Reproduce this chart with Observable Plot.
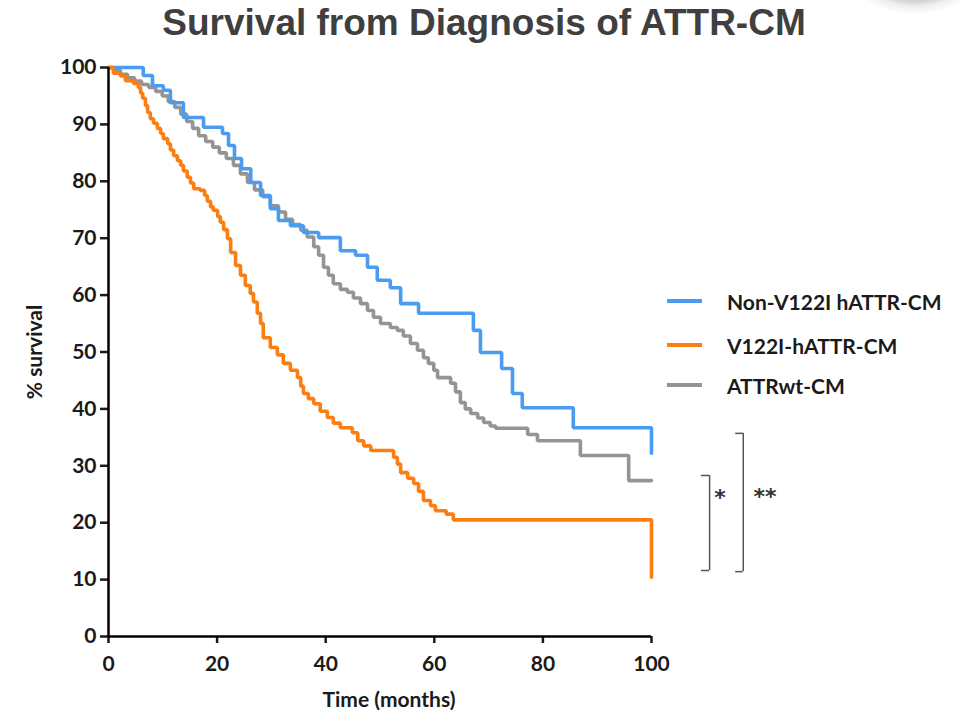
<!DOCTYPE html>
<html>
<head>
<meta charset="utf-8">
<script src="https://cdn.jsdelivr.net/npm/d3@7"></script>
<script src="https://cdn.jsdelivr.net/npm/@observablehq/plot@0.6"></script>
<style>
  html, body { margin: 0; padding: 0; background: #fff; }
  #wrap { position: relative; width: 968px; height: 714px; overflow: hidden; }
  #title { position: absolute; left: 0; top: 4px; width: 968px; text-align: center;
    font: bold 37px "Liberation Sans", Arial, sans-serif; line-height: 37px; color: #3f3f3f; }
  #blob { position: absolute; left: 845px; top: -62px; width: 140px; height: 76px; border-radius: 50%;
    background: radial-gradient(ellipse at 50% 35%, rgba(80,80,80,0.9) 0%, rgba(110,110,110,0.6) 40%, rgba(200,200,200,0.3) 60%, rgba(255,255,255,0) 72%); }
  #chart { position: absolute; left: 0; top: 55px; }
  .leg { position: absolute; left: 667px; height: 26px; display: flex; align-items: center;
    font: bold 21px Lato, sans-serif; color: #1a1a1a; white-space: nowrap; }
  .leg .sw { width: 35px; height: 4px; margin-right: 25px; }
</style>
</head>
<body>
<div id="wrap">
  <div id="blob"></div>
  <div id="title">Survival from Diagnosis of ATTR-CM</div>
  <div id="chart"></div>
  <div id="legend"></div>
</div>
<script>
// ---- Data (months, % survival) ----
const xTicks = [0, 20, 40, 60, 80, 100];
const yTicks = [0, 10, 20, 30, 40, 50, 60, 70, 80, 90, 100];
const xLabel = "Time (months)";
const yLabel = "% survival";

const nonV122I = [
  [0,100],[6.4,98.6],[8.1,96.8],[10.1,96.0],[11.4,93.8],[13.8,91.2],[17.5,89.5],[21.0,88.4],
  [22.1,86.3],[23.2,84.0],[24.5,82.2],[26.2,79.8],[28.0,77.5],[29.8,75.2],[31.3,73.1],[33.5,72.2],
  [35.9,71.0],[38.7,70.1],[42.7,67.8],[45.5,67.0],[47.7,64.9],[49.5,62.6],[51.9,61.3],[53.8,58.5],
  [57.1,56.8],[67.2,53.8],[68.5,49.9],[72.4,47.1],[74.4,42.7],[76.2,40.2],[85.6,36.7],[100,32.2]
];

const v122I = [
  [0,100],[0.9,99.0],[2.2,98.5],[3.1,97.7],[4.6,97.2],[5.5,96.5],[5.9,95.5],[6.3,94.6],[6.8,93.3],
  [7.2,92.1],[7.7,91.0],[8.3,90.2],[9.0,89.3],[9.6,88.4],[10.1,87.5],[10.9,86.6],[11.4,85.5],
  [12.0,84.5],[12.7,83.6],[13.3,82.8],[13.8,81.8],[14.5,80.7],[15.1,79.7],[15.7,78.7],[16.9,78.4],
  [17.7,77.5],[18.2,76.5],[18.8,75.5],[19.3,74.9],[20.1,73.8],[20.6,72.8],[21.2,71.5],[21.9,69.9],
  [22.5,67.5],[23.4,65.2],[24.3,63.5],[25.2,61.7],[26.1,60.3],[26.7,58.8],[27.4,56.8],[28.0,55.0],
  [28.5,52.5],[29.8,50.8],[31.1,49.5],[32.2,48.0],[33.5,46.8],[34.8,45.5],[35.4,44.0],[35.9,42.7],
  [36.8,41.8],[37.8,40.9],[39.0,39.6],[40.3,38.5],[41.4,37.5],[42.7,36.7],[44.9,35.8],[45.9,34.4],
  [47.0,33.5],[48.3,32.7],[52.5,31.5],[53.2,30.3],[53.8,28.8],[55.1,27.8],[56.2,26.9],[57.1,25.5],
  [58.0,23.9],[59.3,23.0],[60.2,22.1],[62.2,21.5],[63.5,20.5],[100,10.4]
];

const attrwt = [
  [0,100],[0.9,99.5],[2.2,98.8],[3.5,98.2],[4.8,97.6],[6.1,97.0],[7.4,96.5],[8.7,95.8],[9.9,95.0],
  [11.0,94.0],[12.2,93.0],[13.3,91.8],[14.4,90.5],[15.5,89.3],[16.6,88.0],[17.9,87.0],[19.2,86.0],
  [20.4,85.0],[21.7,84.0],[23.0,82.8],[24.3,81.3],[25.6,79.8],[26.9,78.5],[28.4,77.3],[29.8,75.7],
  [31.3,74.6],[32.6,73.3],[33.9,72.4],[35.4,71.4],[36.6,70.2],[37.8,68.5],[38.7,67.0],[39.6,64.9],
  [40.5,63.5],[41.4,62.0],[42.7,61.0],[44.0,60.5],[45.1,59.5],[46.4,58.5],[47.7,57.3],[48.8,56.1],
  [50.1,55.0],[51.9,54.3],[53.2,53.8],[54.3,52.8],[55.6,51.5],[56.9,50.3],[58.0,49.0],[58.9,48.0],
  [59.9,46.8],[60.6,45.5],[63.0,44.5],[63.9,43.0],[64.8,41.1],[65.7,40.0],[66.7,39.2],[68.0,38.4],
  [69.1,37.6],[70.3,37.0],[71.3,36.6],[77.2,35.5],[79.0,34.4],[86.9,31.8],[95.8,27.4],[100,27.4]
];

const seriesNames = ["Non-V122I hATTR-CM", "V122I-hATTR-CM", "ATTRwt-CM"];
const seriesColors = ["#4a9bf2", "#fb7e12", "#949494"];
const legendTops = [288, 332, 372];

// significance brackets (x in months beyond the axis, y in % survival)
const brackets = [
  {stem: 110.7, tick: 109.2, top: 28.3, bottom: 11.6, label: "*",  labelX: 112.6, labelY: 24.3},
  {stem: 116.9, tick: 115.5, top: 35.7, bottom: 11.4, label: "**", labelX: 120.9, labelY: 24.6}
];

const toRows = (arr, name) => arr.map(([t, s]) => ({t, s, name}));
const rows = [
  ...toRows(attrwt, seriesNames[2]),
  ...toRows(nonV122I, seriesNames[0]),
  ...toRows(v122I, seriesNames[1])
];

const chart = Plot.plot({
  width: 968,
  height: 659,
  marginTop: 12,
  marginBottom: 78,
  marginLeft: 108,
  marginRight: 317,
  style: {fontFamily: "Lato, sans-serif", fontWeight: "bold", fontSize: "21px", color: "#1a1a1a", overflow: "visible", background: "transparent"},
  x: {domain: [0, 100]},
  y: {domain: [0, 100]},
  color: {domain: seriesNames, range: seriesColors},
  marks: [
    Plot.line(rows, {x: "t", y: "s", z: "name", stroke: "name", strokeWidth: 3.6, curve: "step-after", strokeLinejoin: "miter"}),
    Plot.axisX({ticks: xTicks, tickSize: 7, tickPadding: 13, tickFormat: d => String(d), strokeWidth: 2.5, fontSize: 21, label: null}),
    Plot.axisY({ticks: yTicks, tickSize: 8, tickPadding: 4, tickFormat: d => String(d), strokeWidth: 2.5, fontSize: 21, label: null}),
    Plot.ruleY([0], {stroke: "#000", strokeWidth: 2.5}),
    Plot.ruleX([0], {stroke: "#000", strokeWidth: 2.5}),
    Plot.text([xLabel], {text: d => d, frameAnchor: "bottom", dx: 9, dy: 64, lineAnchor: "middle", textAnchor: "middle", fontSize: 21, fontWeight: "bold", fill: "#1a1a1a"}),
    Plot.text([yLabel], {text: d => d, frameAnchor: "left", dx: -73, rotate: -90, textAnchor: "middle", lineAnchor: "middle", fontSize: 21, fontWeight: "bold", fill: "#1a1a1a"}),
    Plot.ruleX(brackets, {x: "stem", y1: "top", y2: "bottom", stroke: "#555", strokeWidth: 1.5}),
    Plot.ruleY(brackets, {y: "top", x1: "tick", x2: "stem", stroke: "#555", strokeWidth: 1.5}),
    Plot.ruleY(brackets, {y: "bottom", x1: "tick", x2: "stem", stroke: "#555", strokeWidth: 1.5}),
    Plot.text(brackets, {x: "labelX", y: "labelY", text: "label", fontSize: 22, fontWeight: "bold", fill: "#333", fontFamily: "DejaVu Sans"})
  ]
});
document.getElementById("chart").appendChild(chart);

const legend = document.getElementById("legend");
seriesNames.forEach((n, i) => {
  const row = document.createElement("div");
  row.className = "leg";
  row.style.top = legendTops[i] + "px";
  const sw = document.createElement("span");
  sw.className = "sw";
  sw.style.background = seriesColors[i];
  row.appendChild(sw);
  row.appendChild(document.createTextNode(n));
  legend.appendChild(row);
});
</script>
</body>
</html>
